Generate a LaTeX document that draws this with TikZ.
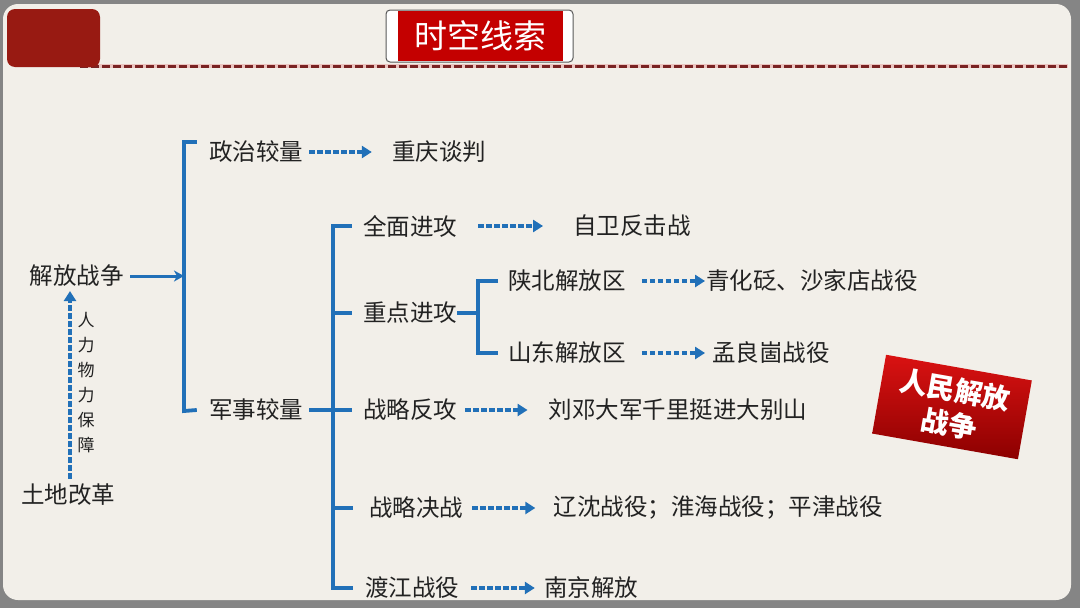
\documentclass[tikz,border=0pt]{standalone}
\usepackage{fontspec}
\setmainfont{Noto Sans CJK SC}
\usetikzlibrary{arrows.meta}
\definecolor{framegray}{HTML}{858585}
\definecolor{cream}{HTML}{F2EFE9}
\definecolor{boxred}{HTML}{981A12}
\definecolor{titlered}{HTML}{C40000}
\definecolor{dashred}{HTML}{7A2323}
\definecolor{dashpink}{HTML}{EBC4C0}
\definecolor{myblue}{HTML}{2170B8}
\definecolor{txt}{HTML}{222222}
\tikzset{
  lbl/.style={inner sep=0pt, font=\fontsize{23.5}{26}\selectfont, text=txt},
  br/.style={draw=myblue, line width=3.8pt, line join=miter},
  sarrow/.style={draw=myblue, line width=3pt, -{Stealth[length=10pt,width=11pt,inset=3pt]}},
  darrow/.style={draw=myblue, line width=3.2pt, dash pattern=on 5.5pt off 2.5pt, -{Triangle[length=10pt,width=12pt]}}
}
\begin{document}
\begin{tikzpicture}[x=1pt,y=-1pt]
\useasboundingbox (0,0) rectangle (1080,608);
% background and frame
\fill[framegray] (0,0) rectangle (1080,608);
\fill[cream, rounded corners=15pt] (3,4) rectangle (1071,600);
% header dashed rule
\draw[dashpink, line width=4.5pt] (80,66) -- (1068,66);
\draw[dashred, line width=3pt, dash pattern=on 8pt off 3pt] (80,66) -- (1068,66);
% top-left red block
\fill[boxred, rounded corners=8pt] (7,9) rectangle (100,67);
% title
\node[draw=gray!70!black, fill=white, rounded corners=4pt, minimum width=187pt, minimum height=52pt, inner sep=0pt, line width=1pt] (tb) at (479.5,36) {};
\node[fill=titlered, minimum width=165pt, minimum height=50pt, inner sep=0pt, text=white, font=\fontsize{33}{36}\selectfont] (tt) at (480.5,36) {时空线索};

% labels
\node[lbl] (jf) at (77,276) {解放战争};
\node[lbl] (td) at (68,495) {土地改革};
\node[inner sep=0pt, text=txt, font=\fontsize{17}{25}\selectfont, align=center] (rl) at (86,383) {人\\力\\物\\力\\保\\障};
\node[lbl] (zz) at (256,152) {政治较量};
\node[lbl] (cq) at (439,152) {重庆谈判};
\node[lbl] (js) at (256,410) {军事较量};
\node[lbl] (qm) at (410,226) {全面进攻};
\node[lbl] (zw) at (632,226) {自卫反击战};
\node[lbl] (zd) at (410,313) {重点进攻};
\node[lbl] (sb) at (567,281) {陕北解放区};
\node[lbl] (qh) at (812,281) {青化砭、沙家店战役};
\node[lbl] (sd) at (567,353) {山东解放区};
\node[lbl] (mlg) at (771,353) {孟良崮战役};
\node[lbl] (fg) at (410,410) {战略反攻};
\node[lbl] (ld) at (678,410) {刘邓大军千里挺进大别山};
\node[lbl] (jz) at (416,508) {战略决战};
\node[lbl] (lx) at (718,508) {辽沈战役；淮海战役；平津战役};
\node[lbl] (dj) at (412,588) {渡江战役};
\node[lbl] (nj) at (591,588) {南京解放};

% bracket coordinates
\coordinate (b1t) at (184,142);
\coordinate (b1m) at (184,276);
\coordinate (b1b) at (184,411);
\coordinate (b2t) at (333,226);
\coordinate (b2b) at (333,588);
\coordinate (b3) at (478,313);

% main arrow and big bracket
\draw[sarrow, shorten <=6pt] (jf.east) -- (b1m);
\draw[br] ([xshift=-12pt,yshift=10pt]zz.west) -- (b1t) -- (b1b) -- ([xshift=-12pt]js.west);

% second bracket
\draw[br] ([xshift=-11pt]qm.west) -- (b2t) -- (b2b) -- ([xshift=-12pt]dj.west);
\draw[br] (b2t |- zd) -- ([xshift=-11pt]zd.west);
\draw[br] ([xshift=6pt]js.east) -- ([xshift=-11pt]fg.west);
\draw[br] (b2t |- jz) -- ([xshift=-16pt]jz.west);

% third bracket
\draw[br] (zd.east) -- (b3);
\draw[br] ([xshift=-10pt]sb.west) -- (b3 |- sb) -- (b3 |- sd) -- ([xshift=-10pt]sd.west);

% dashed arrows
\draw[darrow, shorten <=6pt, shorten >=20pt] (zz.east) -- (cq.west);
\draw[darrow, shorten <=21pt, shorten >=30pt] (qm.east) -- (zw.west);
\draw[darrow, shorten <=16pt, shorten >=1pt] (sb.east) -- (qh.west);
\draw[darrow, shorten <=16pt, shorten >=7pt] (sd.east) -- (mlg.west);
\draw[darrow, shorten <=8pt, shorten >=21pt] (fg.east) -- (ld.west);
\draw[darrow, shorten <=9pt, shorten >=18pt] (jz.east) -- (lx.west);
\draw[darrow, shorten <=12pt, shorten >=9pt] (dj.east) -- (nj.west);
\draw[darrow, shorten <=5pt, shorten >=4pt] ([xshift=2pt]td.north) -- ([xshift=-7pt]jf.south);

% stamp
\node[rotate=-10, minimum width=148pt, minimum height=80pt, inner sep=0pt,
      top color={rgb,255:red,218;green,18;blue,18}, bottom color={rgb,255:red,140;green,0;blue,0},
      text=white, font=\bfseries\fontsize{28}{35}\selectfont, align=center] (st) at (952,407) {人民解放\\战争};
\end{tikzpicture}
\end{document}
